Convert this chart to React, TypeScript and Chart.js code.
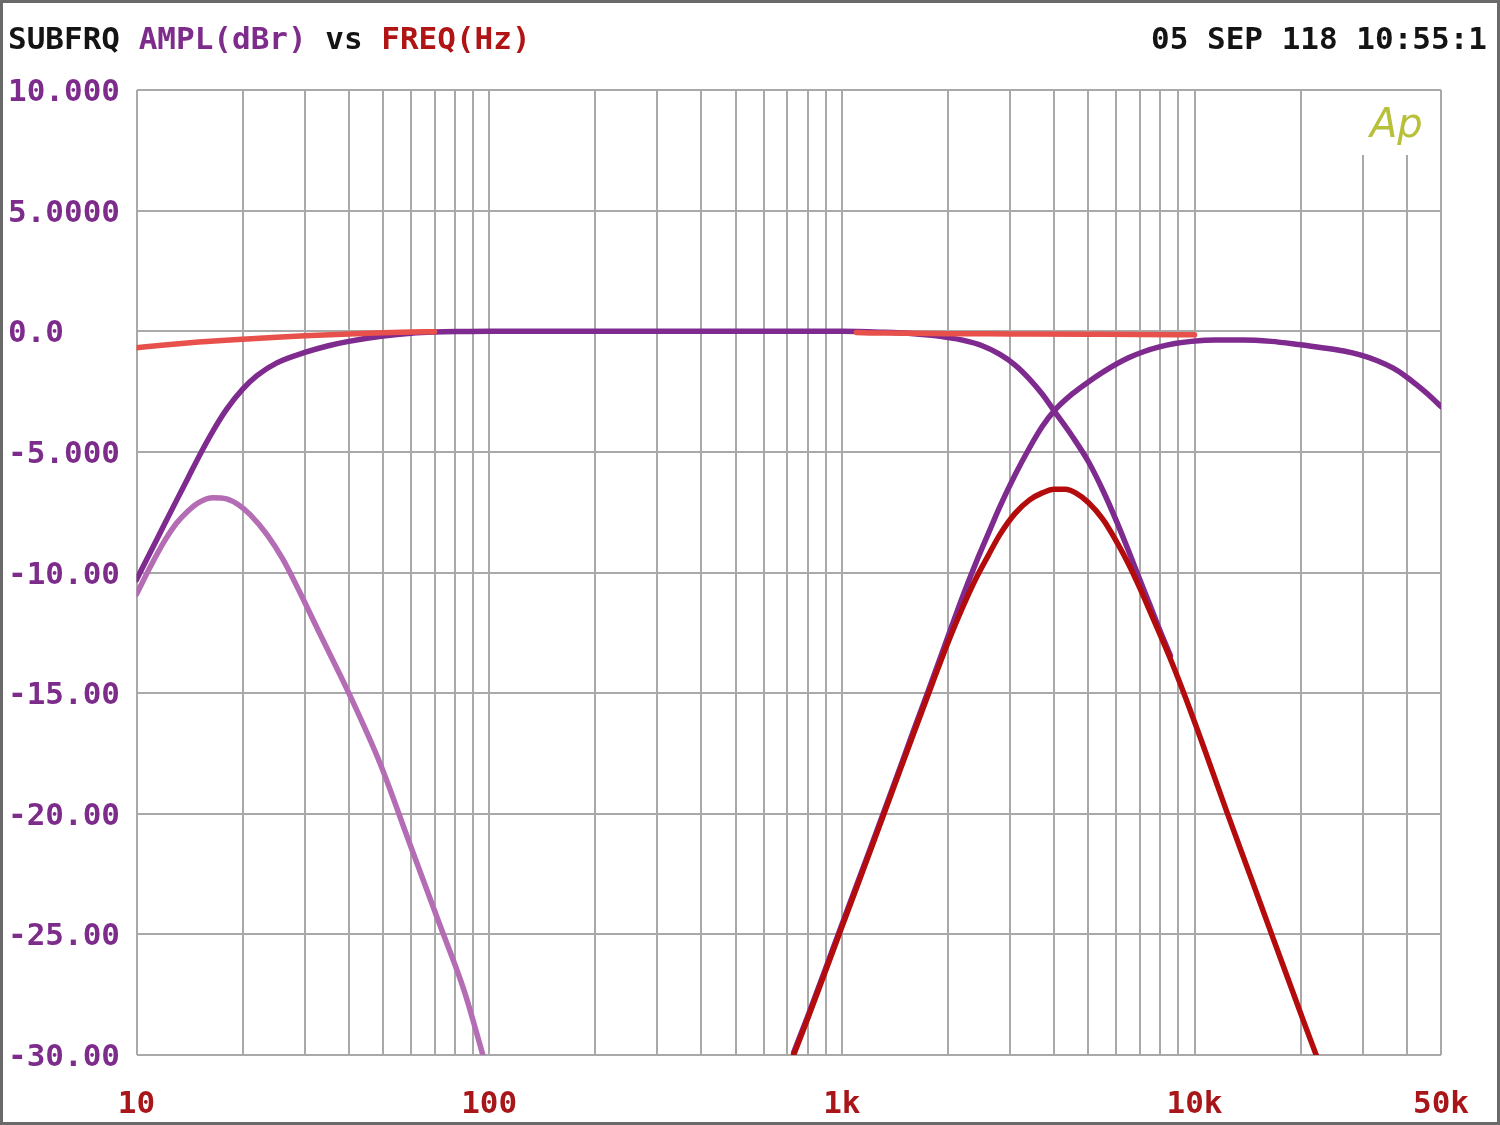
import React, { useEffect, useRef } from 'react';
import { Chart, registerables } from 'chart.js';

Chart.register(...registerables);

// ---------- data (frequency in Hz, amplitude in dBr) ----------
// Subwoofer channel (light purple)
const subFreq = [10, 11, 12, 13, 14, 15, 16.5, 18, 19.5, 21, 23.5, 26, 29, 33, 40, 49, 59.4, 72, 85, 96];
const subAmpl = [-10.9, -9.7, -8.7, -7.95, -7.45, -7.1, -6.9, -6.95, -7.2, -7.6, -8.45, -9.45, -10.8, -12.5, -15.0, -17.9, -21.2, -24.5, -27.35, -30];

// Full-range channel (salmon red)
const wideFreq = [10, 12, 15, 20, 25, 30, 40, 50, 60, 70, 100, 300, 1000, 1100, 1500, 2000, 3000, 5000, 7000, 10000];
const wideAmpl = [-0.68, -0.57, -0.45, -0.33, -0.25, -0.19, -0.11, -0.06, -0.03, -0.02, 0, 0, 0, -0.05, -0.08, -0.1, -0.11, -0.12, -0.13, -0.15];

// Low-pass channel (purple)
const lowFreq = [10, 11, 12, 13, 14, 15, 16.5, 18, 20, 22, 25, 30, 35, 40, 50, 60, 70, 85, 100, 300, 1000, 1300, 1600, 1800, 2000, 2200, 2500, 2800, 3100, 3400, 3700, 4000, 4500, 5000, 5500, 6000, 6500, 7000, 7500, 8000, 8550];
const lowAmpl = [-10.3, -9.1, -8.0, -7.0, -6.08, -5.22, -4.12, -3.24, -2.4, -1.83, -1.31, -0.88, -0.6, -0.42, -0.2, -0.08, -0.03, -0.01, 0, 0, 0, -0.04, -0.1, -0.17, -0.26, -0.37, -0.6, -0.95, -1.4, -1.97, -2.6, -3.3, -4.35, -5.4, -6.6, -7.85, -9.1, -10.3, -11.4, -12.45, -13.45];

// High-pass channel (purple)
const highFreq = [730, 800, 900, 1000, 1200, 1400, 1600, 1800, 2000, 2200, 2400, 2600, 2800, 3100, 3400, 3700, 4000, 4500, 5000, 5600, 6500, 7200, 7900, 8800, 9800, 11500, 13700, 16500, 19700, 23000, 26500, 29500, 33000, 36500, 39500, 42500, 46000, 50000];
const highAmpl = [-29.9, -28.4, -26.4, -24.6, -21.5, -18.85, -16.52, -14.5, -12.65, -11.0, -9.6, -8.4, -7.3, -5.95, -4.85, -3.95, -3.3, -2.6, -2.1, -1.62, -1.1, -0.84, -0.66, -0.51, -0.42, -0.36, -0.36, -0.42, -0.55, -0.68, -0.82, -0.98, -1.22, -1.52, -1.84, -2.2, -2.62, -3.12];

// Band-pass channel (dark red)
const midFreq = [730, 800, 900, 1000, 1200, 1400, 1600, 1800, 2000, 2200, 2400, 2600, 2800, 3100, 3400, 3700, 4000, 4300, 4600, 5000, 5500, 6000, 6500, 7000, 7500, 8000, 8500, 9300, 10600, 12300, 14500, 16600, 18800, 20500, 22200];
const midAmpl = [-30, -28.5, -26.5, -24.7, -21.6, -18.95, -16.65, -14.65, -12.9, -11.45, -10.25, -9.3, -8.45, -7.55, -7.0, -6.7, -6.55, -6.55, -6.7, -7.1, -7.8, -8.7, -9.65, -10.65, -11.65, -12.6, -13.5, -14.95, -17.2, -19.85, -22.7, -25.05, -27.2, -28.7, -30.05];

// ---------- axes ----------
const yTickValues = [-30, -25, -20, -15, -10, -5, 0, 5, 10];
const yTickLabels = ['-30.00', '-25.00', '-20.00', '-15.00', '-10.00', '-5.000', '0.0', '5.0000', '10.000'];
const xGridValues = [
  10, 20, 30, 40, 50, 60, 70, 80, 90,
  100, 200, 300, 400, 500, 600, 700, 800, 900,
  1000, 2000, 3000, 4000, 5000, 6000, 7000, 8000, 9000,
  10000, 20000, 30000, 40000, 50000,
];
const xLabelValues = [10, 100, 1000, 10000, 50000];
const xLabelTexts = ['10', '100', '1k', '10k', '50k'];

const titleParts: [string, string][] = [
  ['SUBFRQ ', '#141414'],
  ['AMPL(dBr) ', '#7d2c8c'],
  ['vs ', '#141414'],
  ['FREQ(Hz)', '#b01414'],
];
const stampText = '05 SEP 118 10:55:1';
const logoText = 'Ap';

// ---------- styles ----------
const FONT = '"DejaVu Sans Mono", monospace';
const GRID = '#a9a9a9';
const C_WIDE = '#e8504c';
const C_PURPLE = '#7f2a8e';
const C_SUB = '#b46cb4';
const C_MID = '#b40c0c';

const pts = (f: number[], a: number[]) => f.map((x, i) => ({ x, y: a[i] }));

const decorPlugin = {
  id: 'decor',
  beforeDraw(chart: any) {
    const { ctx, width, height } = chart;
    ctx.save();
    ctx.fillStyle = '#ffffff';
    ctx.fillRect(0, 0, width, height);
    ctx.restore();
  },
  beforeDatasetsDraw(chart: any) {
    const { ctx, chartArea } = chart;
    ctx.save();
    ctx.fillStyle = '#ffffff';
    ctx.fillRect(1322, chartArea.top + 1, chartArea.right - 1322 - 1, 155 - chartArea.top - 1);
    ctx.restore();
  },
  afterDraw(chart: any) {
    const { ctx, width, height } = chart;
    ctx.save();
    ctx.font = `bold 31px ${FONT}`;
    ctx.textBaseline = 'alphabetic';
    ctx.textAlign = 'left';
    let x = 8;
    for (const [t, c] of titleParts) {
      ctx.fillStyle = c;
      ctx.fillText(t, x, 49);
      x += ctx.measureText(t).width;
    }
    ctx.textAlign = 'right';
    ctx.fillStyle = '#141414';
    ctx.fillText(stampText, 1487, 49);

    ctx.textAlign = 'left';
    ctx.font = `italic 200 40px "DejaVu Sans", sans-serif`;
    ctx.fillStyle = '#b8c03a';
    ctx.fillText(logoText, 1370, 137);

    ctx.strokeStyle = '#6a6a6a';
    ctx.lineWidth = 3;
    ctx.strokeRect(1.5, 1.5, width - 3, height - 3);
    ctx.restore();
  },
};

export default function App() {
  const ref = useRef<HTMLCanvasElement>(null);

  useEffect(() => {
    const canvas = ref.current!;
    const common = {
      borderWidth: 5.5,
      pointRadius: 0,
      pointHoverRadius: 0,
      fill: false,
      cubicInterpolationMode: 'monotone' as const,
      borderCapStyle: 'round' as const,
      borderJoinStyle: 'round' as const,
    };
    const chart = new Chart(canvas, {
      type: 'line',
      data: {
        datasets: [
          {
            ...common,
            label: 'wide',
            data: pts(wideFreq, wideAmpl),
            borderColor: C_WIDE,
            order: 0,
            segment: {
              borderColor: (c: any) =>
                c.p0.parsed.x >= 70 && c.p1.parsed.x <= 1100 ? 'rgba(0,0,0,0)' : C_WIDE,
            },
          },
          { ...common, label: 'mid', data: pts(midFreq, midAmpl), borderColor: C_MID, order: 1 },
          { ...common, label: 'low', data: pts(lowFreq, lowAmpl), borderColor: C_PURPLE, order: 2 },
          { ...common, label: 'high', data: pts(highFreq, highAmpl), borderColor: C_PURPLE, order: 3 },
          { ...common, label: 'sub', data: pts(subFreq, subAmpl), borderColor: C_SUB, order: 4 },
        ],
      },
      options: {
        responsive: false,
        animation: false,
        devicePixelRatio: 1,
        layout: { padding: { left: 8, top: 90, right: 56, bottom: 0 } },
        plugins: { legend: { display: false }, tooltip: { enabled: false }, title: { display: false } },
        events: [],
        scales: {
          x: {
            type: 'logarithmic',
            min: 10,
            max: 50000,
            afterBuildTicks: (s: any) => {
              s.ticks = xGridValues.map((v) => ({ value: v }));
            },
            afterFit: (s: any) => {
              s.height = 70;
            },
            grid: { color: GRID, lineWidth: 2, drawTicks: false },
            border: { display: false },
            ticks: {
              autoSkip: false,
              maxRotation: 0,
              minRotation: 0,
              padding: 31,
              color: '#a8161a',
              font: { family: FONT, size: 31, weight: 'bold' },
              callback: (v: any) => {
                const i = xLabelValues.indexOf(Number(v));
                return i >= 0 ? xLabelTexts[i] : '';
              },
            },
          },
          y: {
            type: 'linear',
            min: -30,
            max: 10,
            afterBuildTicks: (s: any) => {
              s.ticks = yTickValues.map((v) => ({ value: v }));
            },
            afterFit: (s: any) => {
              s.width = 128.5;
            },
            grid: { color: GRID, lineWidth: 2, drawTicks: false },
            border: { display: false },
            ticks: {
              crossAlign: 'far',
              padding: 8,
              labelOffset: 3,
              color: '#7d2c8c',
              font: { family: FONT, size: 31, weight: 'bold' },
              callback: (v: any) => {
                const i = yTickValues.indexOf(Number(v));
                return i >= 0 ? yTickLabels[i] : '';
              },
            },
          },
        },
      },
      plugins: [decorPlugin],
    } as any);
    return () => chart.destroy();
  }, []);

  return (
    <canvas
      ref={ref}
      width={1500}
      height={1125}
      style={{ position: 'absolute', left: 0, top: 0, width: 1500, height: 1125 }}
    />
  );
}
